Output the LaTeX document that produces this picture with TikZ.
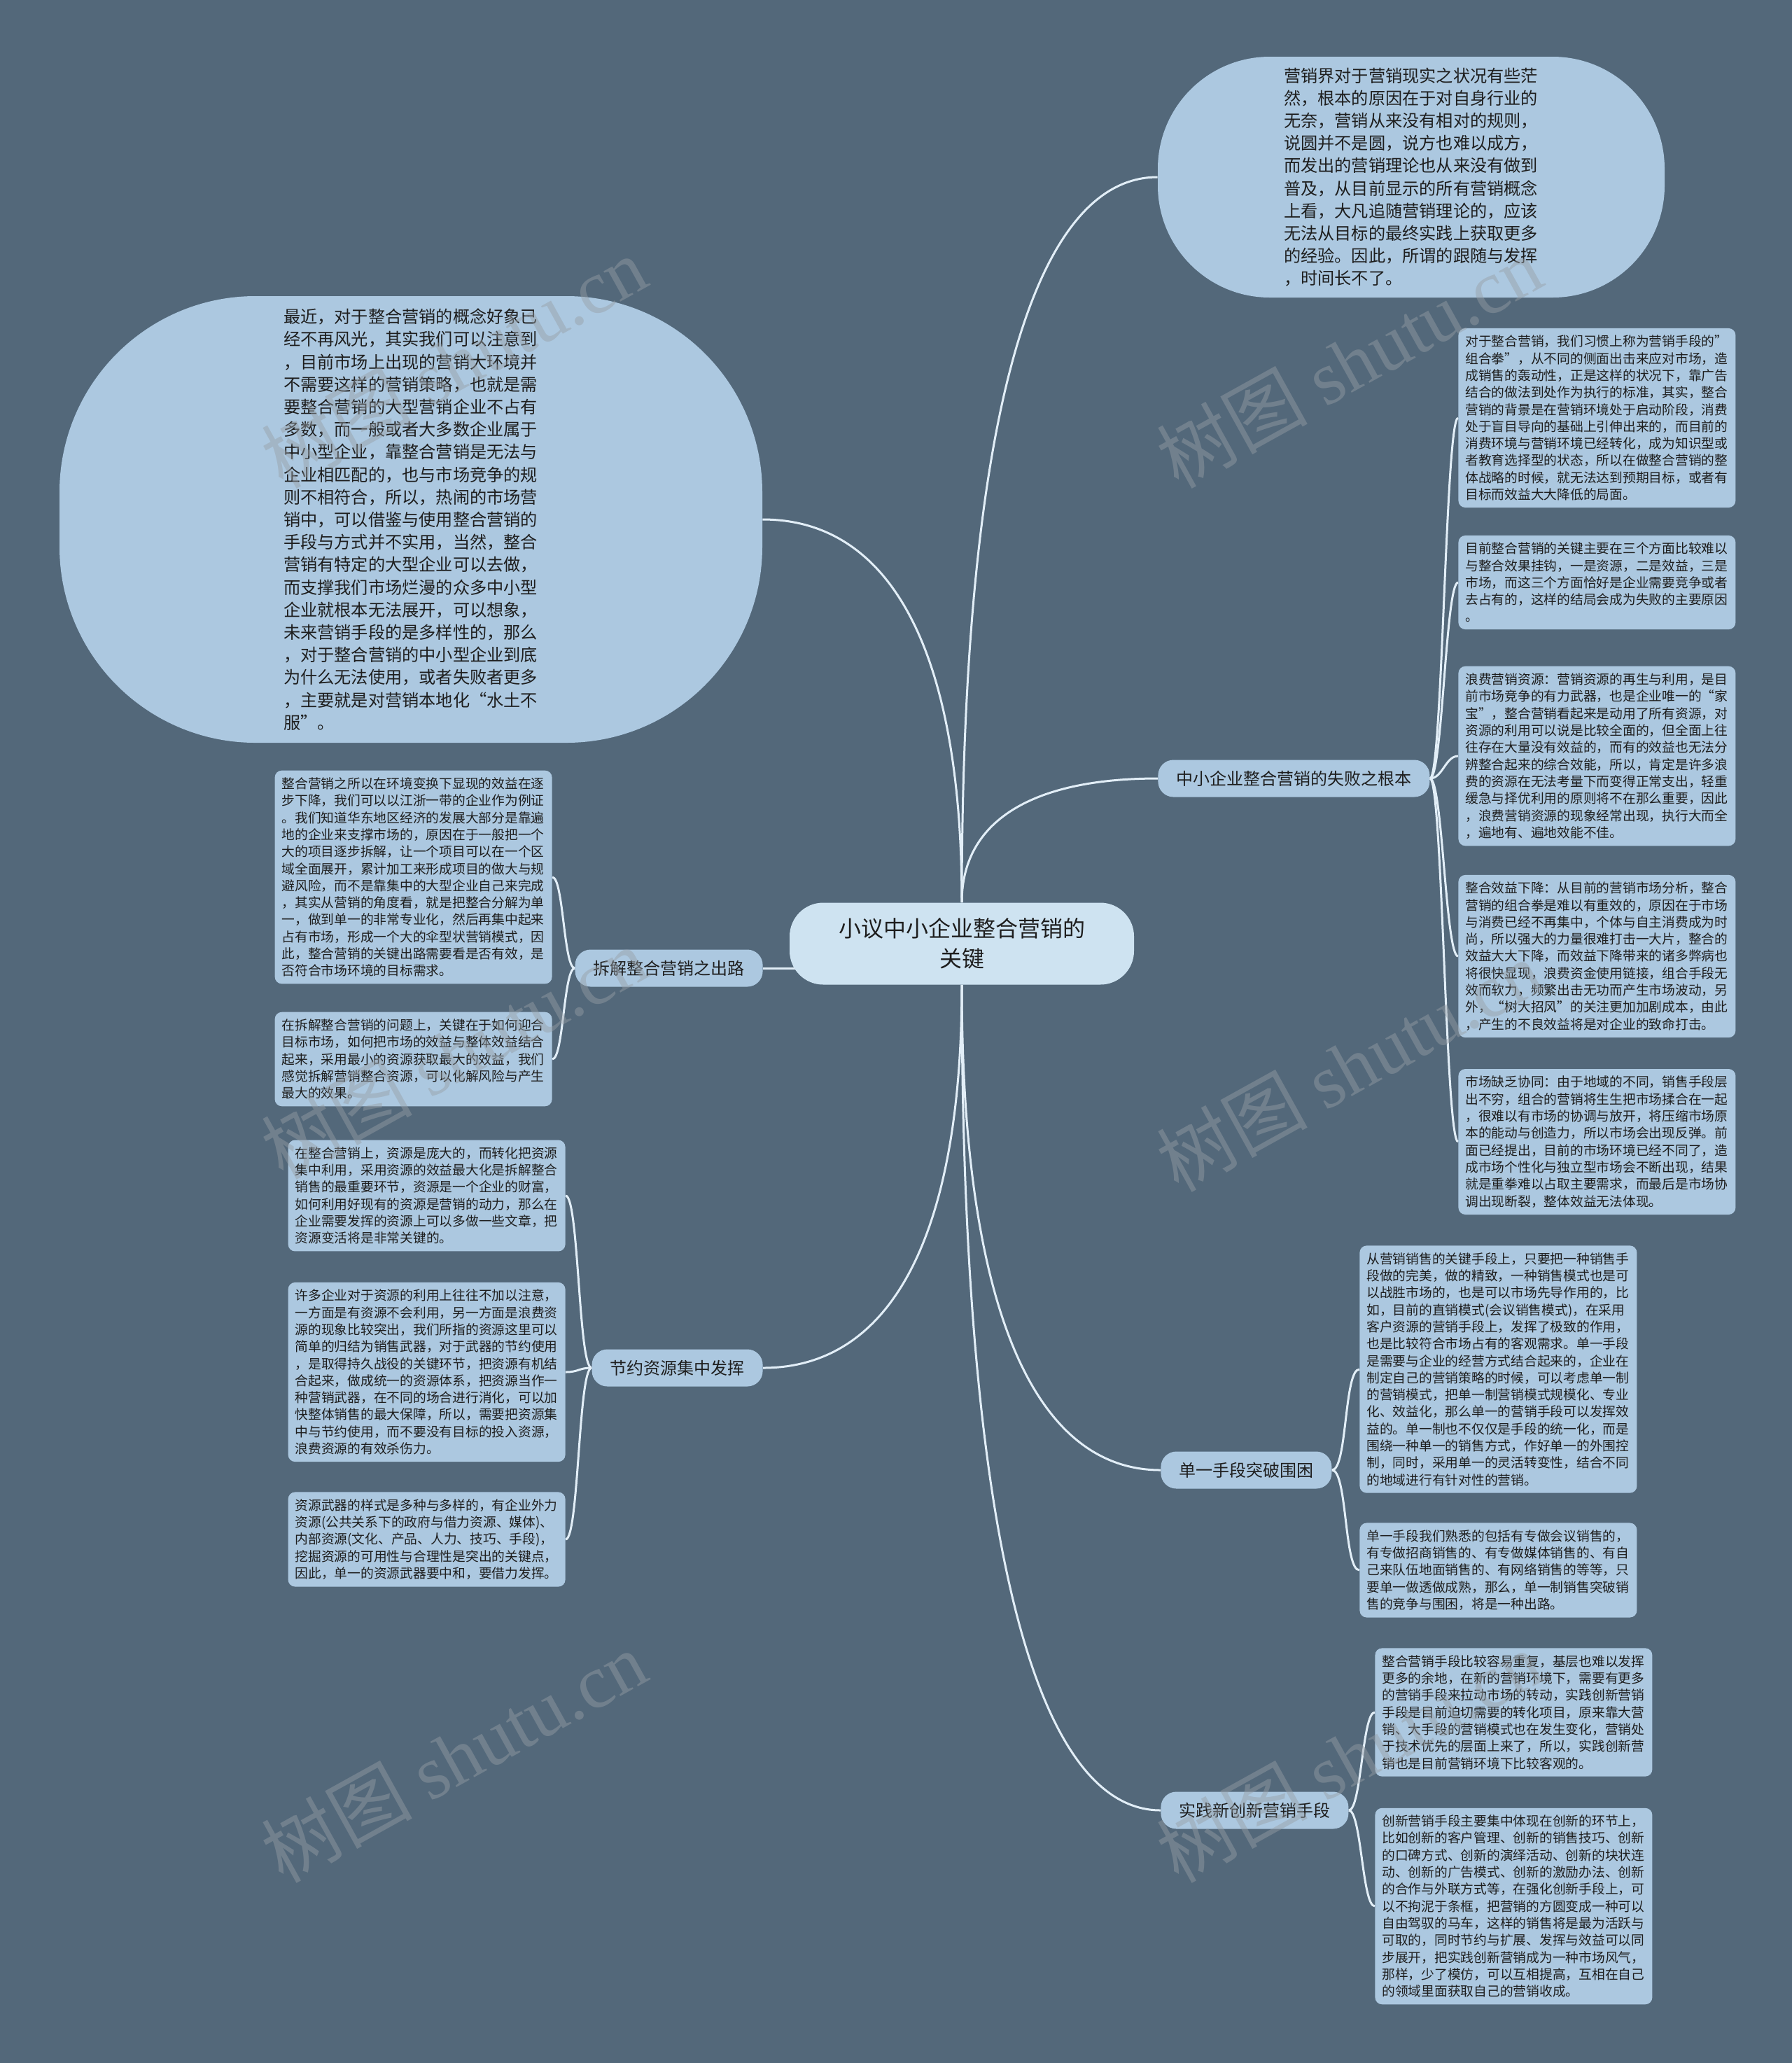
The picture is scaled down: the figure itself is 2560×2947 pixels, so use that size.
\documentclass[tikz,border=0pt]{standalone}
\usepackage{fontspec}
\setmainfont{Noto Sans CJK SC}
\newfontfamily\wmfont{Liberation Serif}
\usetikzlibrary{calc, backgrounds}
\definecolor{bgc}{RGB}{83,104,122}
\definecolor{boxc}{RGB}{172,200,224}
\definecolor{rootc}{RGB}{206,227,241}
\definecolor{linec}{RGB}{226,238,247}
\definecolor{textc}{RGB}{30,30,30}
\definecolor{wmc}{RGB}{150,158,165}

\begin{document}
\begin{tikzpicture}[x=0.5pt, y=-0.5pt]
    % Define the styles for the boxes
    \tikzset{
        topic/.style={rectangle, rounded corners=24pt, fill=rootc, minimum width=246pt, minimum height=58.5pt, align=center, text=textc, font=\fontsize{16pt}{21.6pt}\selectfont},
        subtopic/.style={rectangle, rounded corners=11pt, fill=boxc, minimum height=26.5pt, inner xsep=13pt, text=textc, font=\fontsize{12pt}{14pt}\selectfont},
        detail/.style={rectangle, rounded corners=5pt, fill=boxc, text width=188pt, inner xsep=5pt, inner ysep=5pt, align=left, text=textc, font=\fontsize{9.375pt}{12.15pt}\selectfont},
        bubble/.style={rectangle, fill=boxc, text width=182pt, align=left, text=textc, font=\fontsize{12.1pt}{16.1pt}\selectfont},
        link/.style={draw=linec, line width=1.5pt},
        wmark/.style={rotate=29, text=wmc, text opacity=0.45, font=\fontsize{54pt}{54pt}\selectfont}
    }

    \useasboundingbox (0,0) rectangle (2560,2947);

    % Draw the central topic
    \node[topic] (root) at (1374,1348) {小议中小企业整合营销的\\关键};

    % Draw the two large bubbles
    \node[bubble, minimum width=362pt, minimum height=172pt, rounded corners=80pt] (t1) at (2016,253) {营销界对于营销现实之状况有些茫\\然，根本的原因在于对自身行业的\\无奈，营销从来没有相对的规则，\\说圆并不是圆，说方也难以成方，\\而发出的营销理论也从来没有做到\\普及，从目前显示的所有营销概念\\上看，大凡追随营销理论的，应该\\无法从目标的最终实践上获取更多\\的经验。因此，所谓的跟随与发挥\\，时间长不了。};
    \node[bubble, minimum width=502pt, minimum height=319pt, rounded corners=140pt] (l1) at (587,742) {最近，对于整合营销的概念好象已\\经不再风光，其实我们可以注意到\\，目前市场上出现的营销大环境并\\不需要这样的营销策略，也就是需\\要整合营销的大型营销企业不占有\\多数，而一般或者大多数企业属于\\中小型企业，靠整合营销是无法与\\企业相匹配的，也与市场竞争的规\\则不相符合，所以，热闹的市场营\\销中，可以借鉴与使用整合营销的\\手段与方式并不实用，当然，整合\\营销有特定的大型企业可以去做，\\而支撑我们市场烂漫的众多中小型\\企业就根本无法展开，可以想象，\\未来营销手段的是多样性的，那么\\，对于整合营销的中小型企业到底\\为什么无法使用，或者失败者更多\\，主要就是对营销本地化“水土不\\服”。};

    % Draw the branches
    \node[subtopic, anchor=west] (b1) at (1654,1112) {中小企业整合营销的失败之根本};
    \node[subtopic, anchor=east] (b2) at (1090,1383) {拆解整合营销之出路};
    \node[subtopic, anchor=east] (b3) at (1090,1954) {节约资源集中发挥};
    \node[subtopic, anchor=west] (b4) at (1658,2100) {单一手段突破围困};
    \node[subtopic, anchor=west] (b5) at (1658,2586) {实践新创新营销手段};

    % Draw the details of every branch
    \begin{scope}[every node/.append style={detail}]
        \node[anchor=west] (r1) at (2083,597) {对于整合营销，我们习惯上称为营销手段的”\\组合拳”，从不同的侧面出击来应对市场，造\\成销售的轰动性，正是这样的状况下，靠广告\\结合的做法到处作为执行的标准，其实，整合\\营销的背景是在营销环境处于启动阶段，消费\\处于盲目导向的基础上引伸出来的，而目前的\\消费环境与营销环境已经转化，成为知识型或\\者教育选择型的状态，所以在做整合营销的整\\体战略的时候，就无法达到预期目标，或者有\\目标而效益大大降低的局面。};
        \node[anchor=west] (r2) at (2083,832) {目前整合营销的关键主要在三个方面比较难以\\与整合效果挂钩，一是资源，二是效益，三是\\市场，而这三个方面恰好是企业需要竞争或者\\去占有的，这样的结局会成为失败的主要原因\\。};
        \node[anchor=west] (r3) at (2083,1080) {浪费营销资源：营销资源的再生与利用，是目\\前市场竞争的有力武器，也是企业唯一的“家\\宝”，整合营销看起来是动用了所有资源，对\\资源的利用可以说是比较全面的，但全面上往\\往存在大量没有效益的，而有的效益也无法分\\辨整合起来的综合效能，所以，肯定是许多浪\\费的资源在无法考量下而变得正常支出，轻重\\缓急与择优利用的原则将不在那么重要，因此\\，浪费营销资源的现象经常出现，执行大而全\\，遍地有、遍地效能不佳。};
        \node[anchor=west] (r4) at (2083,1366) {整合效益下降：从目前的营销市场分析，整合\\营销的组合拳是难以有重效的，原因在于市场\\与消费已经不再集中，个体与自主消费成为时\\尚，所以强大的力量很难打击一大片，整合的\\效益大大下降，而效益下降带来的诸多弊病也\\将很快显现，浪费资金使用链接，组合手段无\\效而软力，频繁出击无功而产生市场波动，另\\外，“树大招风”的关注更加加剧成本，由此\\，产生的不良效益将是对企业的致命打击。};
        \node[anchor=west] (r5) at (2083,1631) {市场缺乏协同：由于地域的不同，销售手段层\\出不穷，组合的营销将生生把市场揉合在一起\\，很难以有市场的协调与放开，将压缩市场原\\本的能动与创造力，所以市场会出现反弹。前\\面已经提出，目前的市场环境已经不同了，造\\成市场个性化与独立型市场会不断出现，结果\\就是重拳难以占取主要需求，而最后是市场协\\调出现断裂，整体效益无法体现。};

        \node[anchor=east] (ll1) at (789,1253) {整合营销之所以在环境变换下显现的效益在逐\\步下降，我们可以以江浙一带的企业作为例证\\。我们知道华东地区经济的发展大部分是靠遍\\地的企业来支撑市场的，原因在于一般把一个\\大的项目逐步拆解，让一个项目可以在一个区\\域全面展开，累计加工来形成项目的做大与规\\避风险，而不是靠集中的大型企业自己来完成\\，其实从营销的角度看，就是把整合分解为单\\一，做到单一的非常专业化，然后再集中起来\\占有市场，形成一个大的伞型状营销模式，因\\此，整合营销的关键出路需要看是否有效，是\\否符合市场环境的目标需求。};
        \node[anchor=east] (ll2) at (789,1513) {在拆解整合营销的问题上，关键在于如何迎合\\目标市场，如何把市场的效益与整体效益结合\\起来，采用最小的资源获取最大的效益，我们\\感觉拆解营销整合资源，可以化解风险与产生\\最大的效果。};

        \node[anchor=east] (ll3) at (808,1708) {在整合营销上，资源是庞大的，而转化把资源\\集中利用，采用资源的效益最大化是拆解整合\\销售的最重要环节，资源是一个企业的财富，\\如何利用好现有的资源是营销的动力，那么在\\企业需要发挥的资源上可以多做一些文章，把\\资源变活将是非常关键的。};
        \node[anchor=east] (ll4) at (808,1960) {许多企业对于资源的利用上往往不加以注意，\\一方面是有资源不会利用，另一方面是浪费资\\源的现象比较突出，我们所指的资源这里可以\\简单的归结为销售武器，对于武器的节约使用\\，是取得持久战役的关键环节，把资源有机结\\合起来，做成统一的资源体系，把资源当作一\\种营销武器，在不同的场合进行消化，可以加\\快整体销售的最大保障，所以，需要把资源集\\中与节约使用，而不要没有目标的投入资源，\\浪费资源的有效杀伤力。};
        \node[anchor=east] (ll5) at (808,2199) {资源武器的样式是多种与多样的，有企业外力\\资源(公共关系下的政府与借力资源、媒体)、\\内部资源(文化、产品、人力、技巧、手段)，\\挖掘资源的可用性与合理性是突出的关键点，\\因此，单一的资源武器要中和，要借力发挥。};

        \node[anchor=west] (rr1) at (1942,1956) {从营销销售的关键手段上，只要把一种销售手\\段做的完美，做的精致，一种销售模式也是可\\以战胜市场的，也是可以市场先导作用的，比\\如，目前的直销模式(会议销售模式)，在采用\\客户资源的营销手段上，发挥了极致的作用，\\也是比较符合市场占有的客观需求。单一手段\\是需要与企业的经营方式结合起来的，企业在\\制定自己的营销策略的时候，可以考虑单一制\\的营销模式，把单一制营销模式规模化、专业\\化、效益化，那么单一的营销手段可以发挥效\\益的。单一制也不仅仅是手段的统一化，而是\\围绕一种单一的销售方式，作好单一的外围控\\制，同时，采用单一的灵活转变性，结合不同\\的地域进行有针对性的营销。};
        \node[anchor=west] (rr2) at (1942,2243) {单一手段我们熟悉的包括有专做会议销售的，\\有专做招商销售的、有专做媒体销售的、有自\\己来队伍地面销售的、有网络销售的等等，只\\要单一做透做成熟，那么，单一制销售突破销\\售的竞争与围困，将是一种出路。};

        \node[anchor=west] (rr3) at (1964,2446) {整合营销手段比较容易重复，基层也难以发挥\\更多的余地，在新的营销环境下，需要有更多\\的营销手段来拉动市场的转动，实践创新营销\\手段是目前迫切需要的转化项目，原来靠大营\\销、大手段的营销模式也在发生变化，营销处\\于技术优先的层面上来了，所以，实践创新营\\销也是目前营销环境下比较客观的。};
        \node[anchor=west] (rr4) at (1964,2723) {创新营销手段主要集中体现在创新的环节上，\\比如创新的客户管理、创新的销售技巧、创新\\的口碑方式、创新的演绎活动、创新的块状连\\动、创新的广告模式、创新的激励办法、创新\\的合作与外联方式等，在强化创新手段上，可\\以不拘泥于条框，把营销的方圆变成一种可以\\自由驾驭的马车，这样的销售将是最为活跃与\\可取的，同时节约与扩展、发挥与效益可以同\\步展开，把实践创新营销成为一种市场风气，\\那样，少了模仿，可以互相提高，互相在自己\\的领域里面获取自己的营销收成。};
    \end{scope}

    % Background and connectors behind the boxes
    \begin{pgfonlayer}{background}
        \fill[bgc] (0,0) rectangle (2560,2947);
        \foreach \s/\t in {north/t1.west, north/l1.east, north/b1.west, south/b3.east, south/b4.west, south/b5.west}
            \draw[link] (root.\s) .. controls ($(root.\s)!.65!(root.\s |- \t)$) and ($(\t)!.65!(root.\s |- \t)$) .. (\t);
        \draw[link] (b2.east) -- (b2.east -| root.center);

        \foreach \n in {r1,r2,r3,r4,r5}
            \draw[link] (b1.east) .. controls +(18,0) and +(-18,0) .. (\n.west);
        \foreach \n in {ll1,ll2}
            \draw[link] (b2.west) .. controls +(-16,0) and +(16,0) .. (\n.east);
        \foreach \n in {ll3,ll4,ll5}
            \draw[link] (b3.west) .. controls +(-19,0) and +(19,0) .. (\n.east);
        \foreach \n in {rr1,rr2}
            \draw[link] (b4.east) .. controls +(22,0) and +(-22,0) .. (\n.west);
        \foreach \n in {rr3,rr4}
            \draw[link] (b5.east) .. controls +(18,0) and +(-18,0) .. (\n.west);
    \end{pgfonlayer}

    % Watermarks
    \foreach \wx/\wy in {648/517, 1927/517, 648/1504, 1927/1522, 648/2509, 1927/2509}
        \node[wmark] (wm-\wx-\wy) at (\wx,\wy) {树图 {\wmfont shutu.cn}};
\end{tikzpicture}
\end{document}
